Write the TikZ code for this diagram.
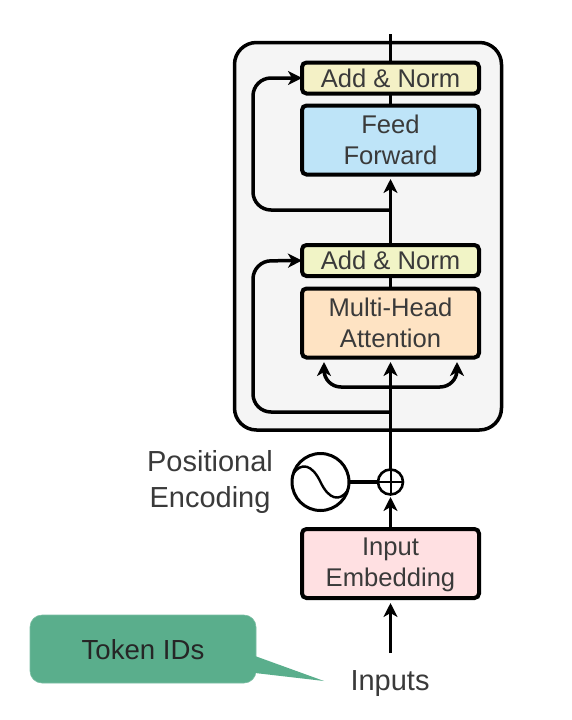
\documentclass[tikz,border=0pt]{standalone}
\usepackage{fontspec}
\setmainfont{Liberation Sans}
\usetikzlibrary{arrows.meta}
\definecolor{txt}{HTML}{3A3A3A}
\definecolor{anA}{HTML}{F4F1C6}
\definecolor{anB}{HTML}{F1F4C6}
\definecolor{ffc}{HTML}{BEE4F8}
\definecolor{mhc}{HTML}{FEE3C3}
\definecolor{iec}{HTML}{FFE0E2}
\definecolor{panelc}{HTML}{F5F5F5}
\definecolor{tokc}{HTML}{5AAE8C}
\tikzset{
  blockbox/.style={draw=black,line width=4pt,rounded corners=4.5pt,minimum width=177pt,outer sep=0pt,inner sep=0pt,text=txt,font=\fontsize{25.6}{31}\selectfont,align=center},
  thinbox/.style={blockbox,minimum height=31pt},
  tallbox/.style={blockbox,minimum height=69pt},
  label/.style={text=txt,font=\fontsize{29}{36}\selectfont,align=center,inner sep=0pt},
  conn/.style={draw=black,line width=3.5pt},
  arr/.style={conn,-{Stealth[length=14pt,width=14pt,inset=4pt]}},
  ring/.style={draw=black,circle,inner sep=0pt,outer sep=0pt,fill=white}
}
\begin{document}
\begin{tikzpicture}[x=1pt,y=-1pt]
\useasboundingbox (0,0) rectangle (571,720);
% panel
\draw[draw=black,line width=3.5pt,fill=panelc,rounded corners=22pt] (234.5,42.5) rectangle (501.5,430);
% callout
\path[fill=tokc,draw=tokc!80!white,line width=.6pt,rounded corners=12pt] (30,615) -- (256,615) -- (256,683) -- (30,683) -- cycle;
\path[fill=tokc] (255,656) -- (324,681) -- (255,673) -- cycle;
\node[text=black!85,font=\fontsize{27.6}{32}\selectfont,inner sep=0pt] (tok) at (143,650) {Token IDs};
% junctions
\coordinate (topend) at (390.5,34);
\coordinate (j2) at (390.5,210);
\coordinate (c2a) at (253,210);
\coordinate (c2b) at (253,78);
\coordinate (j1) at (390.5,412);
\coordinate (c1a) at (253,412);
\coordinate (c1b) at (253,261);
\coordinate (jm) at (390.5,387);
\coordinate (ml) at (324,387);
\coordinate (mlt) at (324,362);
\coordinate (mr) at (457,387);
\coordinate (mrt) at (457,362);
\coordinate (ffin) at (390.5,179);
\coordinate (mhin) at (390.5,362);
\coordinate (iein) at (390.5,497);
\coordinate (inend) at (390.5,653);
\coordinate (iebot) at (390.5,603);
% blocks
\node[thinbox,fill=anA] (an2) at (390.5,78) {Add \& Norm};
\node[tallbox,fill=ffc] (ff) at (390.5,140) {Feed\\Forward};
\node[thinbox,fill=anB] (an1) at (390.5,260.5) {Add \& Norm};
\node[tallbox,fill=mhc] (mh) at (390.5,323) {Multi-Head\\Attention};
\node[tallbox,fill=iec] (ie) at (390.5,563.5) {\rule{0pt}{20pt}Input\\Embedding};
\node[ring,line width=2.6pt,minimum size=25pt] (plus) at (390.5,482) {};
\node[ring,line width=3pt,minimum size=57pt] (pe) at (320.5,482) {};
\node[label] (pos) at (210,482) {Positional\\Encoding};
\node[label] (inp) at (390,684) {Inputs};
% connectors
\draw[conn] (an2.north) -- (topend);
\draw[conn] (ff.north) -- (an2.south);
\draw[arr] (an1.north) -- (ffin);
\draw[conn] (mh.north) -- (an1.south);
\draw[arr,rounded corners=18pt] (j2) -- (c2a) -- (c2b) -- (an2.west);
\draw[arr,rounded corners=18pt] (j1) -- (c1a) -- (c1b) -- (an1.west);
\draw[arr] (plus.north) -- (mhin);
\draw[arr,rounded corners=17pt] (jm) -- (ml) -- (mlt);
\draw[arr,rounded corners=17pt] (jm) -- (mr) -- (mrt);
\draw[arr] (ie.north) -- (iein);
\draw[arr] (inend) -- (iebot);
\draw[conn] (pe.east) -- (plus.west);
% plus sign and sine wave
\draw[draw=black,line width=2pt] (plus.north) -- (plus.south);
\draw[draw=black,line width=2pt] (plus.west) -- (plus.east);
\draw[draw=black,line width=2.4pt] (293,474) .. controls (301,462) and (312,464) .. (320.5,482) .. controls (329,500) and (340,502) .. (348,490);
\end{tikzpicture}
\end{document}
